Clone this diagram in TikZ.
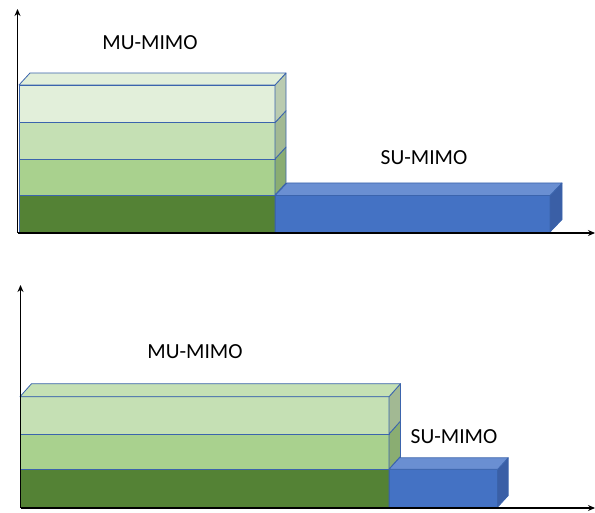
\documentclass[tikz,border=0pt]{standalone}
\usepackage{fontspec}
\setmainfont{Carlito}
\usetikzlibrary{arrows.meta}

\definecolor{edge}{HTML}{3B64AD}
\definecolor{gA}{HTML}{E2EFDA}\definecolor{gAside}{HTML}{BACBB0}
\definecolor{gB}{HTML}{C5E0B4}\definecolor{gBside}{HTML}{A2B993}
\definecolor{gC}{HTML}{A9D18E}\definecolor{gCside}{HTML}{8AAD72}
\definecolor{gD}{HTML}{548235}\definecolor{gDside}{HTML}{44692B}
\definecolor{bF}{HTML}{4472C4}\definecolor{bT}{HTML}{6A8FD2}\definecolor{bS}{HTML}{3A5FA6}

% \slab{x0}{y0}{x1}{y1}{dx}{dy}{side}{front}{top or empty}
\newcommand\slab[9]{%
  \filldraw[fill=#8,face] (#1,#2) rectangle (#3,#4);
  \filldraw[fill=#7,face] (#3,#2) -- ++(#5,-#6) -- ++(0,#4-#2) -- (#3,#4) -- cycle;
  \ifx\relax#9\relax\else
    \filldraw[fill=#9,face] (#1,#2) -- ++(#5,-#6) -- ++(#3-#1,0) -- (#3,#2) -- cycle;
  \fi}

\tikzset{
  face/.style={draw=edge,line width=0.8pt,line join=round},
  axis/.style={line width=1.8pt,-{Stealth[length=7pt,width=6pt]}},
  label/.style={font=\fontsize{21.5}{24}\selectfont,text=black,inner sep=0pt}
}

\begin{document}
\begin{tikzpicture}[x=1pt,y=-1pt]
\useasboundingbox (0,0) rectangle (595,513);

% ---------- upper chart ----------
\slab{19}{195}{275}{232}{11}{12}{gDside}{gD}{}
\slab{19}{159}{275}{195}{11}{12}{gCside}{gC}{}
\slab{19}{122.7}{275}{159}{11}{12}{gBside}{gB}{}
\slab{19}{85}{275}{122.7}{11}{12}{gAside}{gA}{gA}
\slab{275}{195.5}{550}{232}{12}{12.5}{bS}{bF}{bT}
\node[label] (mu1) at (150,43) {MU-MIMO};
\node[label] (su1) at (424,158) {SU-MIMO};
\coordinate (o1) at (17.5,233);
\coordinate (y1) at (17.5,9);
\coordinate (x1) at (595,233);
\draw[axis] (o1) -- (y1);
\draw[axis] (o1) -- (x1);

% ---------- lower chart ----------
\slab{20}{469.3}{389}{507}{11.5}{13}{gDside}{gD}{}
\slab{20}{434}{389}{469.3}{11.5}{13}{gCside}{gC}{}
\slab{20}{396.7}{389}{434}{11.5}{13}{gBside}{gB}{gB}
\slab{389}{469.3}{497.7}{507}{10.5}{11.5}{bS}{bF}{bT}
\node[label] (mu2) at (195,352) {MU-MIMO};
\node[label] (su2) at (454,437) {SU-MIMO};
\coordinate (o2) at (20.5,508);
\coordinate (y2) at (20.5,285);
\coordinate (x2) at (595,508);
\draw[axis] (o2) -- (y2);
\draw[axis] (o2) -- (x2);
\end{tikzpicture}
\end{document}
